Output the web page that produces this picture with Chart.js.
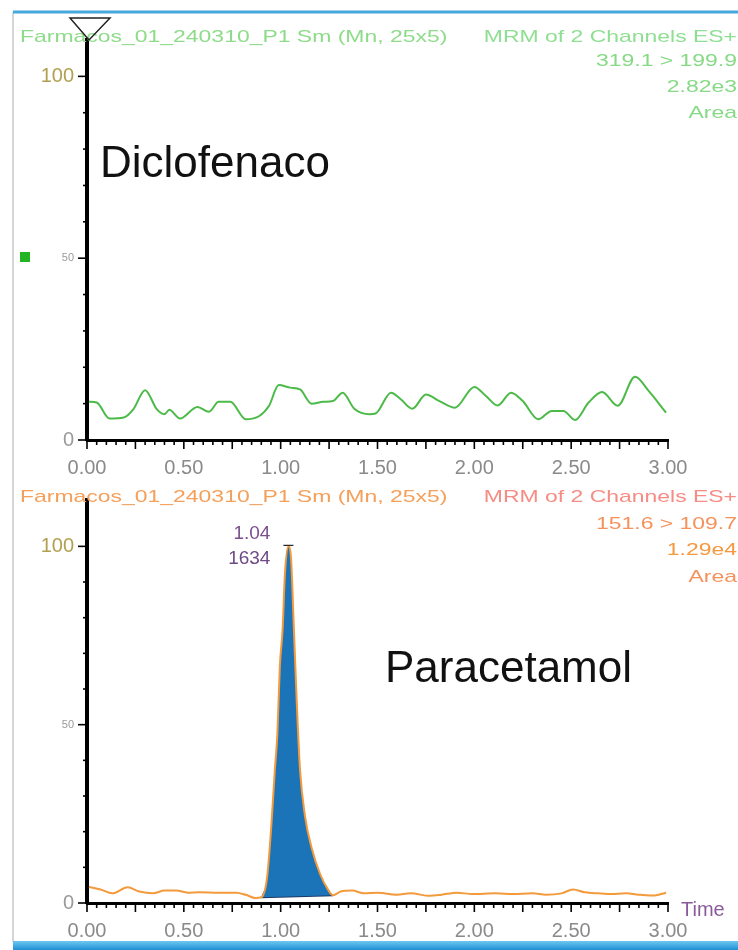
<!DOCTYPE html>
<html>
<head>
<meta charset="utf-8">
<script src="https://cdn.jsdelivr.net/npm/chart.js@4.4.1/dist/chart.umd.min.js"></script>
<style>
  html, body { margin: 0; padding: 0; background: #fff; }
  #wrap { position: relative; width: 738px; height: 950px; overflow: hidden; }
  canvas { position: absolute; left: 0; }
  #top { top: 0; }
  #bottom { top: 475px; }
</style>
</head>
<body>
<div id="wrap">
  <canvas id="top" width="738" height="475"></canvas>
  <canvas id="bottom" width="738" height="475"></canvas>
</div>
<script>
// Diclofenaco trace, MRM 319.1 > 199.9 (time in min, relative intensity %)
const timeDiclo = [0.01,0.05,0.116,0.19,0.24,0.30,0.36,0.40,0.425,0.48,0.57,0.63,0.68,0.74,0.82,0.89,0.94,0.99,1.05,1.10,1.16,1.22,1.27,1.32,1.38,1.46,1.49,1.57,1.62,1.68,1.75,1.82,1.90,2.00,2.06,2.12,2.19,2.25,2.33,2.40,2.46,2.52,2.59,2.66,2.74,2.83,2.90,2.99];
const diclofenaco = [10.5,10.3,5.9,6.2,8.5,13.7,8.5,7.1,8.3,5.9,9.1,7.8,10.5,10.5,5.7,6.6,9.4,15.1,14.4,13.9,10.0,10.5,10.7,13.0,8.6,7.1,7.3,13.0,11.2,8.6,12.5,10.7,8.9,14.6,12.1,9.5,13.0,10.7,5.7,8.0,8.0,5.5,10.3,13.2,9.4,17.4,13.5,7.5];

// Paracetamol trace, MRM 151.6 > 109.7
const timePara = [0.01,0.07,0.13,0.21,0.27,0.34,0.40,0.46,0.52,0.58,0.68,0.77,0.82,0.87,0.90,0.93,0.953,0.97,0.983,0.996,1.01,1.022,1.04,1.053,1.069,1.083,1.10,1.125,1.16,1.203,1.246,1.27,1.31,1.37,1.43,1.50,1.60,1.67,1.77,1.83,1.91,1.99,2.11,2.20,2.30,2.37,2.45,2.51,2.57,2.64,2.71,2.78,2.86,2.93,2.99];
const paracetamol = [4.5,3.8,2.7,4.4,3.2,2.7,3.5,3.5,2.9,3.0,2.9,2.9,2.3,1.4,1.6,7.2,22.7,37.3,47.4,66.6,76.7,92.3,100,97,75.7,56.5,37.3,24.6,15.4,8.2,3.6,2.2,3.2,3.5,2.7,2.9,2.3,2.7,2.0,2.3,2.9,2.5,2.7,2.5,2.7,2.3,2.7,3.8,3.0,2.7,2.5,2.7,2.3,2.1,2.9];

// Integrated peak: start/end times and baseline levels
const peakStart = 0.90;
const peakEnd = 1.27;
const baselineLevels = [1.6, 2.2];
const peakRT = 1.04;
const peakHeight = 1634;

// Axis labels
const xTickLabels = ['0.00','0.50','1.00','1.50','2.00','2.50','3.00'];
const yTickLabels = { 0: '0', 50: '50', 100: '100' };

const FONT = '"Liberation Sans", Arial, sans-serif';

function txt(ctx, s, x, y, size, color, align, stretch) {
  const sx = stretch || 1;
  ctx.save();
  ctx.font = size + 'px ' + FONT;
  ctx.fillStyle = color;
  ctx.textBaseline = 'middle';
  ctx.textAlign = 'left';
  const w = ctx.measureText(s).width * sx;
  const x0 = align === 'right' ? x - w : align === 'center' ? x - w / 2 : x;
  ctx.translate(x0, y);
  ctx.scale(sx, 1);
  ctx.fillText(s, 0, 0);
  ctx.restore();
}

function seg(ctx, x1, y1, x2, y2) {
  ctx.beginPath(); ctx.moveTo(x1, y1); ctx.lineTo(x2, y2); ctx.stroke();
}

// Minor/major tick marks on both axes, placed through the chart scales
const axisTicks = {
  id: 'axisTicks',
  afterDraw(chart) {
    const { ctx, chartArea: a } = chart;
    const x = chart.scales.x, y = chart.scales.y;
    ctx.save();
    ctx.strokeStyle = '#000';
    ctx.lineWidth = 1.6;
    x.ticks.forEach((t, i) => {
      const px = x.getPixelForValue(t.value);
      const len = (i % 5 === 0) ? 9 : 5;
      seg(ctx, px, a.bottom, px, a.bottom + len);
    });
    y.ticks.forEach(t => {
      const py = y.getPixelForValue(t.value);
      const len = (t.value % 50 === 0) ? 9 : 4;
      seg(ctx, a.left - len, py, a.left, py);
    });
    ctx.restore();
  }
};

// Frame: grey left rule, blue top line / bottom bar
function frame(ctx, which) {
  ctx.save();
  ctx.strokeStyle = '#d6d6d6';
  ctx.lineWidth = 2;
  if (which === 'top') {
    seg(ctx, 13, 12, 13, 475);
    ctx.strokeStyle = '#45a8de';
    ctx.lineWidth = 3;
    seg(ctx, 13, 12, 738, 12);
  } else {
    seg(ctx, 13, 0, 13, 467);
    const g = ctx.createLinearGradient(0, 466, 0, 475);
    g.addColorStop(0, '#6cc8f0');
    g.addColorStop(1, '#1f8fd6');
    ctx.fillStyle = g;
    ctx.fillRect(13, 466, 725, 9);
  }
  ctx.restore();
}

const HS = 1.35; // header text is set wide

const topDecor = {
  id: 'topDecor',
  afterDraw(chart) {
    const ctx = chart.ctx;
    frame(ctx, 'top');
    txt(ctx, 'Farmacos_01_240310_P1 Sm (Mn, 25x5)', 20, 37, 17, '#8edc8a', 'left', HS);
    txt(ctx, 'MRM of 2 Channels ES+', 737, 37, 17, '#8fdf92', 'right', HS);
    txt(ctx, '319.1 > 199.9', 737, 61, 17, '#86da86', 'right', HS);
    txt(ctx, '2.82e3', 737, 87, 17, '#86da86', 'right', HS);
    txt(ctx, 'Area', 737, 113, 17, '#86da86', 'right', HS);
    txt(ctx, 'Diclofenaco', 100, 165, 44, '#111', 'left');
    // scan-range marker at the top of the axis
    ctx.save();
    ctx.strokeStyle = '#222';
    ctx.lineWidth = 1.5;
    ctx.beginPath();
    ctx.moveTo(70, 18); ctx.lineTo(110, 18); ctx.lineTo(89, 40); ctx.closePath();
    ctx.stroke();
    ctx.fillStyle = '#22b422';
    ctx.fillRect(20, 252, 10, 10);
    ctx.restore();
  }
};

const bottomDecor = {
  id: 'bottomDecor',
  afterDraw(chart) {
    const ctx = chart.ctx;
    const x = chart.scales.x, y = chart.scales.y;
    frame(ctx, 'bottom');
    txt(ctx, 'Farmacos_01_240310_P1 Sm (Mn, 25x5)', 20, 22, 17, '#f5a05a', 'left', HS);
    txt(ctx, 'MRM of 2 Channels ES+', 737, 22, 17, '#f68c84', 'right', HS);
    txt(ctx, '151.6 > 109.7', 737, 49, 17, '#f5925c', 'right', HS);
    txt(ctx, '1.29e4', 737, 75, 17, '#f5983e', 'right', HS);
    txt(ctx, 'Area', 737, 102, 17, '#f5925c', 'right', HS);
    txt(ctx, 'Paracetamol', 385, 195, 44, '#111', 'left');
    // apex annotation
    const px = x.getPixelForValue(peakRT);
    const py = y.getPixelForValue(100);
    txt(ctx, peakRT.toFixed(2), px - 18, py - 13, 19, '#7a4f8c', 'right');
    txt(ctx, String(peakHeight), px - 18, py + 12, 19, '#6e4a86', 'right');
    ctx.save();
    ctx.strokeStyle = '#222';
    ctx.lineWidth = 1.2;
    seg(ctx, px - 5, py - 1, px + 5, py - 1);
    ctx.restore();
    txt(ctx, 'Time', chart.chartArea.right + 13, chart.chartArea.bottom + 7, 20, '#8a5a9a', 'left');
  }
};

function xScale() {
  return {
    type: 'linear', min: 0, max: 3,
    afterFit(s) { s.height = 35; },
    afterBuildTicks(s) { s.ticks = Array.from({ length: 61 }, (_, i) => ({ value: i * 0.05 })); },
    grid: { display: true, drawOnChartArea: false, drawTicks: false },
    border: { display: true, color: '#000', width: 3 },
    ticks: {
      autoSkip: false, maxRotation: 0, padding: 16,
      color: '#8a8a8a',
      font: { family: FONT, size: 20 },
      callback(v, i) { return i % 10 === 0 ? xTickLabels[i / 10] : ''; }
    }
  };
}

function yScale(max) {
  return {
    type: 'linear', min: 0, max: max,
    afterFit(s) { s.width = 87; },
    afterBuildTicks(s) { s.ticks = Array.from({ length: 11 }, (_, i) => ({ value: i * 10 })); },
    grid: { display: true, drawOnChartArea: false, drawTicks: false },
    border: { display: true, color: '#000', width: 4 },
    ticks: {
      padding: 13,
      color(c) { return c.tick && c.tick.value === 100 ? '#b0a050' : '#9a9a9a'; },
      font(c) { return { family: FONT, size: c.tick && c.tick.value === 50 ? 11 : 20 }; },
      callback(v) { return yTickLabels[v] || ''; }
    }
  };
}

const common = {
  responsive: false,
  animation: false,
  events: [],
  plugins: { legend: { display: false }, tooltip: { enabled: false } }
};

new Chart(document.getElementById('top'), {
  type: 'line',
  data: {
    datasets: [{
      data: timeDiclo.map((t, i) => ({ x: t, y: diclofenaco[i] })),
      borderColor: '#4cba48',
      borderWidth: 2,
      pointRadius: 0,
      cubicInterpolationMode: 'monotone',
      fill: false
    }]
  },
  options: Object.assign({}, common, {
    layout: { padding: { top: 40, right: 70, bottom: 0, left: 0 } },
    scales: { x: xScale(), y: yScale(110) }
  }),
  plugins: [axisTicks, topDecor]
});

const peakPts = timePara
  .map((t, i) => ({ x: t, y: paracetamol[i] }))
  .filter(p => p.x >= peakStart && p.x <= peakEnd);

new Chart(document.getElementById('bottom'), {
  type: 'line',
  data: {
    datasets: [
      {
        data: timePara.map((t, i) => ({ x: t, y: paracetamol[i] })),
        borderColor: '#f39a3c',
        borderWidth: 2,
        pointRadius: 0,
        cubicInterpolationMode: 'monotone',
        fill: false
      },
      {
        data: peakPts,
        borderWidth: 0,
        borderColor: 'rgba(0,0,0,0)',
        backgroundColor: '#1c74b8',
        pointRadius: 0,
        cubicInterpolationMode: 'monotone',
        fill: { target: 2 }
      },
      {
        data: [{ x: peakStart, y: baselineLevels[0] }, { x: peakEnd, y: baselineLevels[1] }],
        borderColor: '#1b3a66',
        borderWidth: 2,
        pointRadius: 0,
        fill: false
      }
    ]
  },
  options: Object.assign({}, common, {
    layout: { padding: { top: 15, right: 70, bottom: 12, left: 0 } },
    scales: { x: xScale(), y: yScale(113) }
  }),
  plugins: [axisTicks, bottomDecor]
});
</script>
</body>
</html>
